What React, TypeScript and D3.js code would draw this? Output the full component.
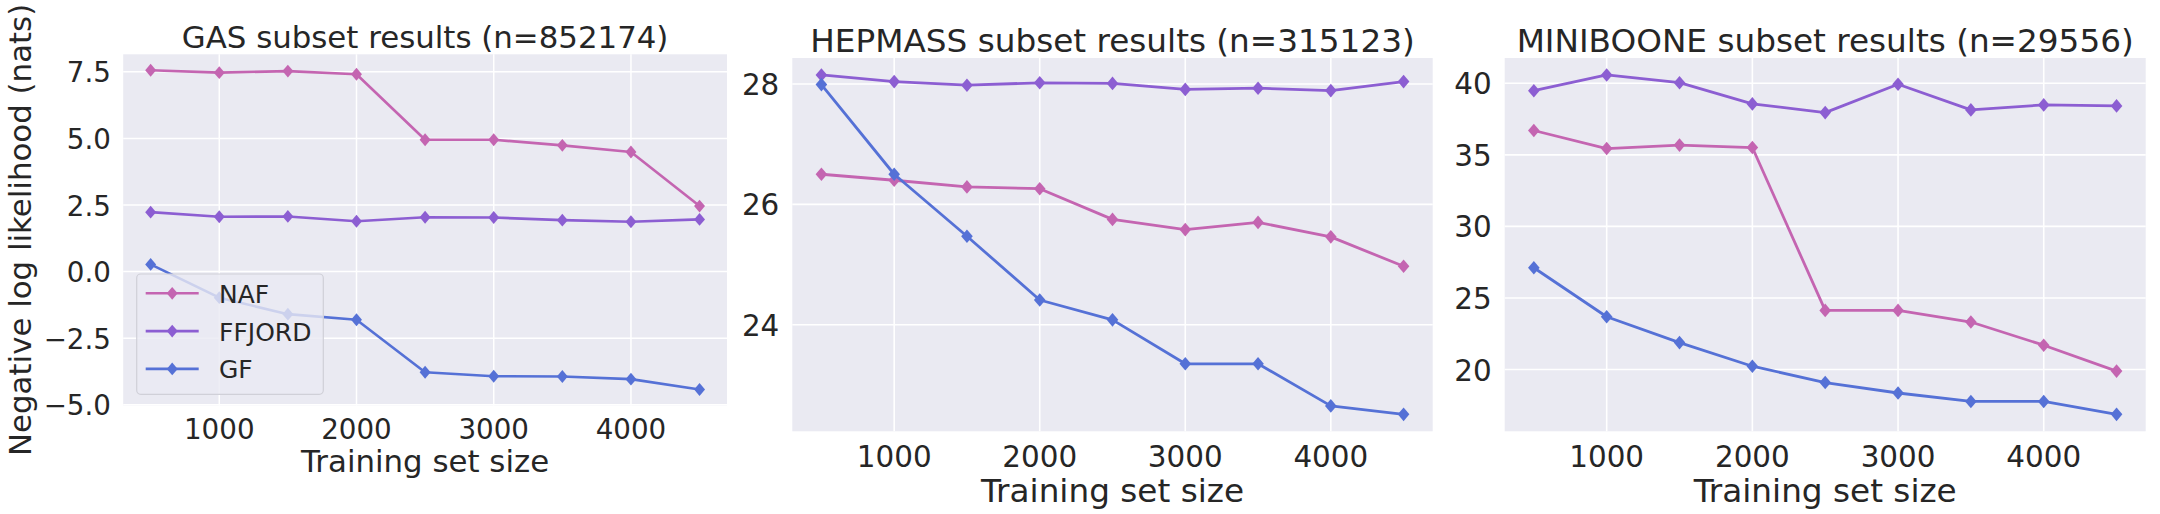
import React from 'react';
import * as d3 from 'd3';

// Training set sizes shared by every panel
const trainSizes = [500, 1000, 1500, 2000, 2500, 3000, 3500, 4000, 4500];
const xTickValues = [1000, 2000, 3000, 4000];

const methods = ['NAF', 'FFJORD', 'GF'];
const methodColors = ['#c465b1', '#8c5ed2', '#5571d6'];

// GAS
const gasNAF = [7.56, 7.47, 7.53, 7.41, 4.95, 4.95, 4.74, 4.49, 2.46];
const gasFFJORD = [2.23, 2.06, 2.07, 1.89, 2.04, 2.03, 1.93, 1.87, 1.96];
const gasGF = [0.27, -0.98, -1.6, -1.81, -3.78, -3.93, -3.94, -4.04, -4.43];
const gasYTicks = [-5, -2.5, 0, 2.5, 5, 7.5];

// HEPMASS
const hepNAF = [26.5, 26.4, 26.29, 26.26, 25.75, 25.58, 25.7, 25.46, 24.97];
const hepFFJORD = [28.15, 28.04, 27.98, 28.02, 28.01, 27.91, 27.93, 27.89, 28.04];
const hepGF = [27.99, 26.5, 25.47, 24.41, 24.08, 23.35, 23.35, 22.65, 22.51];
const hepYTicks = [24, 26, 28];

// MINIBOONE
const miniNAF = [36.7, 35.44, 35.68, 35.51, 24.13, 24.13, 23.32, 21.7, 19.89];
const miniFFJORD = [39.48, 40.58, 40.04, 38.56, 37.95, 39.93, 38.14, 38.49, 38.42];
const miniGF = [27.11, 23.69, 21.88, 20.23, 19.09, 18.36, 17.77, 17.77, 16.87];
const miniYTicks = [20, 25, 30, 35, 40];

const FONT = '"DejaVu Sans", sans-serif';
const TEXT = '#262626';

interface PanelProps {
  title: string;
  series: number[][];
  yTicks: number[];
  yFormat: (v: number) => string;
  box: { left: number; right: number; top: number; bottom: number };
  s: number; // text scale of this panel
  showYLabel?: boolean;
  showLegend?: boolean;
}

// matplotlib style limits: data extent padded by 5%
const padded = (vals: number[]): [number, number] => {
  const [lo, hi] = d3.extent(vals) as [number, number];
  const m = (hi - lo) * 0.05;
  return [lo - m, hi + m];
};

const diamond = (cx: number, cy: number, w: number, h: number) =>
  `M${cx},${cy - h}L${cx + w},${cy}L${cx},${cy + h}L${cx - w},${cy}Z`;

const Panel: React.FC<PanelProps> = ({ title, series, yTicks, yFormat, box, s, showYLabel, showLegend }) => {
  const x = d3.scaleLinear().domain(padded(trainSizes)).range([box.left, box.right]);
  const y = d3.scaleLinear().domain(padded(series.flat())).range([box.bottom, box.top]);
  const line = d3
    .line<number>()
    .x((_, i) => x(trainSizes[i]))
    .y((d) => y(d));
  const cx = (box.left + box.right) / 2;
  const tickSize = 29.4 * s;
  const labelSize = 32.7 * s;
  const mw = 5.8 * s;
  const mh = 6.8 * s;

  return (
    <g>
      <rect x={box.left} y={box.top} width={box.right - box.left} height={box.bottom - box.top} fill="#eaeaf2" />
      {xTickValues.map((t) => (
        <line key={'gx' + t} x1={x(t)} x2={x(t)} y1={box.top} y2={box.bottom} stroke="#fff" strokeWidth={1.6 * s} />
      ))}
      {yTicks.map((t) => (
        <line key={'gy' + t} x1={box.left} x2={box.right} y1={y(t)} y2={y(t)} stroke="#fff" strokeWidth={1.6 * s} />
      ))}
      {series.map((vals, k) => (
        <g key={methods[k]}>
          <path d={line(vals) || ''} fill="none" stroke={methodColors[k]} strokeWidth={2.8 * s} strokeLinejoin="round" />
          {vals.map((v, i) => (
            <path key={i} d={diamond(x(trainSizes[i]), y(v), mw, mh)} fill={methodColors[k]} />
          ))}
        </g>
      ))}
      {xTickValues.map((t) => (
        <text key={'tx' + t} x={x(t)} y={box.bottom + 36 * s} textAnchor="middle" fontSize={tickSize} fill={TEXT}>
          {t}
        </text>
      ))}
      {yTicks.map((t) => (
        <text
          key={'ty' + t}
          x={box.left - 13 * s}
          y={y(t) + 1}
          textAnchor="end"
          dominantBaseline="central"
          fontSize={tickSize}
          fill={TEXT}
        >
          {yFormat(t)}
        </text>
      ))}
      <text x={cx} y={box.top - 6.5 * s} textAnchor="middle" fontSize={labelSize} fill={TEXT}>
        {title}
      </text>
      <text x={cx} y={box.bottom + 71 * s} textAnchor="middle" fontSize={labelSize} fill={TEXT}>
        Training set size
      </text>
      {showYLabel && (
        <text
          transform={`translate(31,${(box.top + box.bottom) / 2}) rotate(-90)`}
          textAnchor="middle"
          fontSize={labelSize}
          fill={TEXT}
        >
          Negative log likelihood (nats)
        </text>
      )}
      {showLegend && (
        <g>
          <rect x={136.7} y={274} width={186.6} height={120.3} rx={4} fill="#eaeaf2" fillOpacity={0.8} stroke="#d0d0d8" strokeWidth={1.2} />
          {methods.map((m, k) => {
            const ly = 293.3 + k * 37.8;
            return (
              <g key={'lg' + m}>
                <line x1={145.7} x2={198.7} y1={ly} y2={ly} stroke={methodColors[k]} strokeWidth={2.8 * s} />
                <path d={diamond(172.2, ly, mw, mh)} fill={methodColors[k]} />
                <text x={219} y={ly + 1} dominantBaseline="central" fontSize={25} fill={TEXT}>
                  {m}
                </text>
              </g>
            );
          })}
        </g>
      )}
    </g>
  );
};

const fmtGas = (v: number) => d3.format('.1f')(v).replace('-', '\u2212');
const fmtInt = (v: number) => String(v);

export default function App() {
  return (
    <svg
      width={2160}
      height={514}
      style={{ position: 'absolute', left: 0, top: 0, background: '#fff' }}
      fontFamily={FONT}
    >
      <Panel
        title="GAS subset results (n=852174)"
        series={[gasNAF, gasFFJORD, gasGF]}
        yTicks={gasYTicks}
        yFormat={fmtGas}
        box={{ left: 123.2, right: 727, top: 54.3, bottom: 405.5 }}
        s={0.943}
        showYLabel
        showLegend
      />
      <Panel
        title="HEPMASS subset results (n=315123)"
        series={[hepNAF, hepFFJORD, hepGF]}
        yTicks={hepYTicks}
        yFormat={fmtInt}
        box={{ left: 792.3, right: 1432.7, top: 58, bottom: 431.3 }}
        s={1}
      />
      <Panel
        title="MINIBOONE subset results (n=29556)"
        series={[miniNAF, miniFFJORD, miniGF]}
        yTicks={miniYTicks}
        yFormat={fmtInt}
        box={{ left: 1504.7, right: 2145.7, top: 58, bottom: 431.3 }}
        s={1}
      />
    </svg>
  );
}
